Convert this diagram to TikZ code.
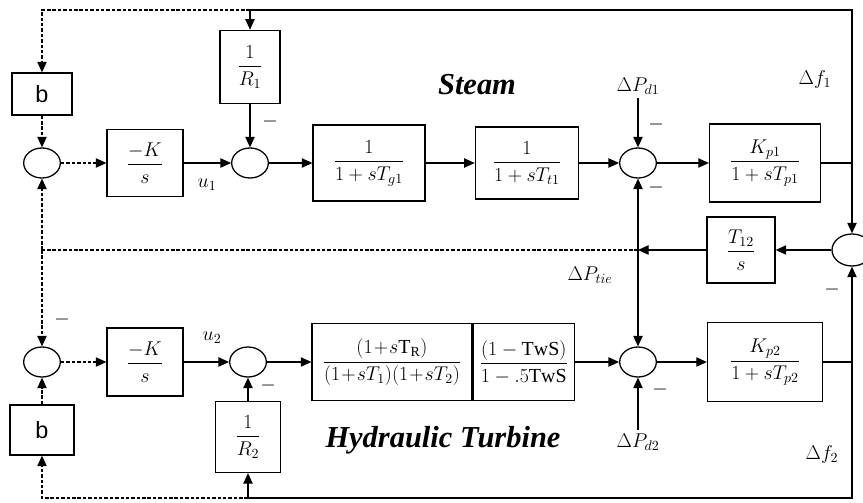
\documentclass[tikz,border=0pt]{standalone}
\usepackage{fix-cm}
\usepackage{amsmath}
\usepackage{fontspec}
\setmainfont{Liberation Serif}
\setsansfont{Liberation Sans}
\usetikzlibrary{shapes.geometric,arrows.meta,positioning}

\begin{document}
\begin{tikzpicture}[x=0.03cm,y=-0.03cm,
    font=\fontsize{17}{20}\selectfont,
    blk/.style={draw,line width=1.1pt,inner sep=1pt},
    sum/.style={draw,ellipse,line width=1.1pt,minimum width=1.1cm,minimum height=0.9cm,inner sep=0pt},
    sig/.style={line width=0.9pt,-{Triangle[length=9pt,width=8pt]}},
    wire/.style={line width=0.9pt},
    acl/.style={dash pattern=on 3pt off 1.6pt},
    lbl/.style={font=\fontsize{26}{30}\selectfont\bfseries\itshape}]
        \useasboundingbox (0,0) rectangle (863,503);
        % area 1 (steam)
        \node[blk,minimum width=1.8cm,minimum height=1.26cm] (b1) at (42,94) {\fontsize{20}{24}\sffamily b};
        \node[sum] (s1) at (42,163) {};
        \node[blk,minimum width=2.28cm,minimum height=2cm] (k1) at (145,163) {$\dfrac{-K}{s}$};
        \node[sum] (s2) at (250,163) {};
        \node[blk,minimum width=1.8cm,minimum height=2.2cm] (r1) at (250,67) {$\dfrac{1}{R_1}$};
        \node[blk,minimum width=3.36cm,minimum height=2.28cm] (g1) at (369,163) {$\dfrac{1}{1+sT_{g1}}$};
        \node[blk,minimum width=3.1cm,minimum height=2.16cm] (t1) at (527,163) {$\dfrac{1}{1+sT_{t1}}$};
        \node[sum] (s3) at (638,163) {};
        \node[blk,minimum width=3.33cm,minimum height=2.34cm] (kp1) at (765,163) {$\dfrac{K_{p1}}{1+sT_{p1}}$};
        \node (dpd1) at (638,86) {$\Delta P_{d1}$};
        % tie line
        \node[sum,minimum width=1.2cm,minimum height=0.96cm] (stie) at (852,250) {};
        \node[blk,minimum width=2.04cm,minimum height=1.98cm] (t12) at (741,250) {$\dfrac{T_{12}}{s}$};
        \coordinate (ptie) at (638,250);
        \coordinate (al) at (42,250);
        % area 2 (hydro)
        \node[sum] (s5) at (42,362) {};
        \node[blk,minimum width=1.92cm,minimum height=1.5cm] (b2) at (42,430) {\fontsize{20}{24}\sffamily b};
        \node[blk,minimum width=2.28cm,minimum height=2.04cm] (k2) at (145,362) {$\dfrac{-K}{s}$};
        \node[sum] (s6) at (248,362) {};
        \node[blk,minimum width=1.95cm,minimum height=2.13cm] (r2) at (248,437) {$\dfrac{1}{R_2}$};
        \node[blk,minimum width=4.8cm,minimum height=2.3cm] (hy1) at (392,362) {$\dfrac{(1\!+\!s\mathrm{T_R})}{(1\!+\!sT_1)(1\!+\!sT_2)}$};
        \node[blk,minimum width=3.03cm,minimum height=2.3cm,right=0pt of hy1.east,anchor=west] (hy2) {$\dfrac{(1-\mathrm{TwS})}{1-.5\mathrm{TwS}}$};
        \node[sum] (s4) at (638,362) {};
        \node[blk,minimum width=3.45cm,minimum height=2.37cm] (kp2) at (765,362) {$\dfrac{K_{p2}}{1+sT_{p2}}$};
        \node (dpd2) at (638,442) {$\Delta P_{d2}$};
        % labels
        \node[lbl] (steam) at (477,85) {Steam};
        \node[lbl] (hydro) at (443,440) {Hydraulic Turbine};
        \node (u1) at (207,185) {$u_1$};
        \node (u2) at (212,338) {$u_2$};
        \node (df1) at (815,80) {$\Delta f_1$};
        \node (df2) at (822,455) {$\Delta f_2$};
        \node (dptie) at (590,275) {$\Delta P_{tie}$};
        \node (m1) at (270,122) {$-$};
        \node (m2) at (656,125) {$-$};
        \node (m3) at (656,188) {$-$};
        \node (m4) at (832,290) {$-$};
        \node (m5) at (62,320) {$-$};
        \node (m6) at (268,386) {$-$};
        \node (m7) at (660,390) {$-$};
        % forward paths
        \draw[sig,acl] (b1.south) -- (s1.north);
        \draw[sig,acl] (s1.east) -- (k1.west);
        \draw[sig] (k1.east) -- (s2.west);
        \draw[sig] (r1.south) -- (s2.north);
        \draw[sig] (s2.east) -- (g1.west);
        \draw[sig] (g1.east) -- (t1.west);
        \draw[sig] (t1.east) -- (s3.west);
        \draw[sig] (dpd1.south) -- (s3.north);
        \draw[sig] (s3.east) -- (kp1.west);
        \draw[sig,acl] (b2.north) -- (s5.south);
        \draw[sig,acl] (s5.east) -- (k2.west);
        \draw[sig] (k2.east) -- (s6.west);
        \draw[sig] (r2.north) -- (s6.south);
        \draw[sig] (s6.east) -- (hy1.west);
        \draw[sig] (hy2.east) -- (s4.west);
        \draw[sig] (dpd2.north) -- (s4.south);
        \draw[sig] (s4.east) -- (kp2.west);
        % frequency feedback
        \coordinate (f1) at (kp1.east -| stie.north);
        \coordinate (tl) at (250,10);
        \draw[wire] (kp1.east) -- (f1);
        \draw[wire] (f1) |- (tl);
        \draw[sig] (tl) -- (r1.north);
        \draw[sig,acl] (tl) -| (b1.north);
        \draw[sig] (f1) -- (stie.north);
        \coordinate (f2) at (kp2.east -| stie.south);
        \coordinate (bl) at (248,498);
        \draw[wire] (kp2.east) -- (f2);
        \draw[sig] (f2) -- (stie.south);
        \draw[wire] (f2) |- (bl);
        \draw[sig] (bl) -- (r2.south);
        \draw[sig,acl] (bl) -| (b2.south);
        % tie-line power
        \draw[sig] (stie.west) -- (t12.east);
        \draw[sig] (t12.west) -- (ptie);
        \draw[sig] (ptie) -- (s3.south);
        \draw[sig] (ptie) -- (s4.north);
        \draw[wire,acl] (ptie) -- (al);
        \draw[sig,acl] (al) -- (s1.south);
        \draw[sig,acl] (al) -- (s5.north);
\end{tikzpicture}
\end{document}
